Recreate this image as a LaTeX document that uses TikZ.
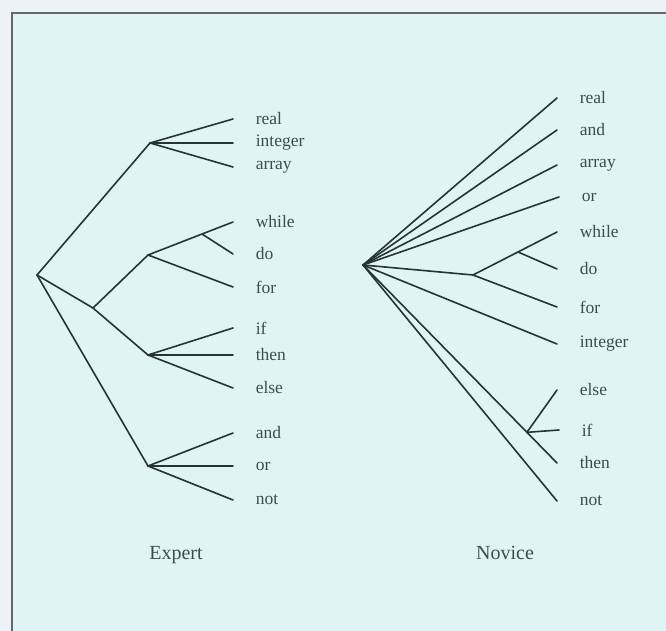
\documentclass[tikz,border=0pt]{standalone}
\usepackage{fontspec}
\setmainfont{Liberation Serif}
\usepackage{xcolor}
\usetikzlibrary{calc}

\definecolor{paper}{RGB}{224,243,245}
\definecolor{margin}{RGB}{236,243,248}
\definecolor{ink}{RGB}{38,52,54}
\definecolor{print}{RGB}{62,76,78}

\begin{document}
\begin{tikzpicture}[x=1pt, y=-1pt, line width=1.6pt]
    \tikzstyle{word} = [anchor=west, inner xsep=22pt, inner ysep=0pt, text=print, font=\fontsize{17.5}{20}\selectfont]
    \tikzstyle{caption} = [text=print, font=\fontsize{20}{22}\selectfont]
    \tikzstyle{line} = [draw=ink, line cap=round]

    % page and frame
    \useasboundingbox (0,0) rectangle (666,631);
    \fill[margin] (0,0) rectangle (666,631);
    \fill[paper] (12,13) rectangle (666,631);
    \draw[gray!80!black, line width=1.2pt] (12,631) -- (12,13) -- (666,13);

    % expert tree
    \coordinate (exroot) at (37,275);
    \coordinate (exdecl) at (150,143);
    \coordinate (exmid) at (93,308);
    \coordinate (exloop) at (148,255);
    \coordinate (exwd) at (202,234);
    \coordinate (excond) at (148,355);
    \coordinate (exbool) at (148,466);

    \node [word] (exreal) at (233,119) {real};
    \node [word] (exint) at (233,143) {integer};
    \node [word] (exarray) at (233,167) {array};
    \node [word] (exwhile) at (233,222) {while};
    \node [word] (exdo) at (233,254) {do};
    \node [word] (exfor) at (233,287) {for};
    \node [word] (exif) at (233,328) {if};
    \node [word] (exthen) at (233,355) {then};
    \node [word] (exelse) at (233,388) {else};
    \node [word] (exand) at (233,433) {and};
    \node [word] (exor) at (233,466) {or};
    \node [word] (exnot) at (233,500) {not};

    \path [line] (exroot) -- (exdecl);
    \path [line] (exroot) -- (exmid);
    \path [line] (exroot) -- (exbool);
    \path [line] (exmid) -- (exloop);
    \path [line] (exmid) -- (excond);
    \path [line] (exdecl) -- (exreal.west);
    \path [line] (exdecl) -- (exint.west);
    \path [line] (exdecl) -- (exarray.west);
    \path [line] (exloop) -- (exwhile.west);
    \path [line] (exwd) -- (exdo.west);
    \path [line] (exloop) -- (exfor.west);
    \path [line] (excond) -- (exif.west);
    \path [line] (excond) -- (exthen.west);
    \path [line] (excond) -- (exelse.west);
    \path [line] (exbool) -- (exand.west);
    \path [line] (exbool) -- (exor.west);
    \path [line] (exbool) -- (exnot.west);

    \node [caption] (expert) at (176,555) {Expert};

    % novice tree
    \coordinate (noroot) at (363,265);
    \coordinate (noloop) at (473,275);
    \coordinate (nowd) at (518,252);

    \node [word] (noreal) at (557,98) {real};
    \node [word] (noand) at (557,130) {and};
    \node [word] (noarray) at (557,165) {array};
    \node [word] (noor) at (559,197) {or};
    \node [word] (nowhile) at (557,232) {while};
    \node [word] (nodo) at (557,269) {do};
    \node [word] (nofor) at (557,307) {for};
    \node [word] (noint) at (557,344) {integer};
    \node [word] (noelse) at (557,390) {else};
    \node [word] (noif) at (559,430) {if};
    \node [word] (nothen) at (557,463) {then};
    \node [word] (nonot) at (557,501) {not};
    \coordinate (nocond) at ($(noroot)!0.845!(nothen.west)$);

    \path [line] (noroot) -- (noreal.west);
    \path [line] (noroot) -- (noand.west);
    \path [line] (noroot) -- (noarray.west);
    \path [line] (noroot) -- (noor.west);
    \path [line] (noroot) -- (noloop);
    \path [line] (noloop) -- (nowhile.west);
    \path [line] (nowd) -- (nodo.west);
    \path [line] (noloop) -- (nofor.west);
    \path [line] (noroot) -- (noint.west);
    \path [line] (noroot) -- (nothen.west);
    \path [line] (nocond) -- (noelse.west);
    \path [line] (nocond) -- (noif.west);
    \path [line] (noroot) -- (nonot.west);

    \node [caption] (novice) at (505,553) {Novice};
\end{tikzpicture}
\end{document}
